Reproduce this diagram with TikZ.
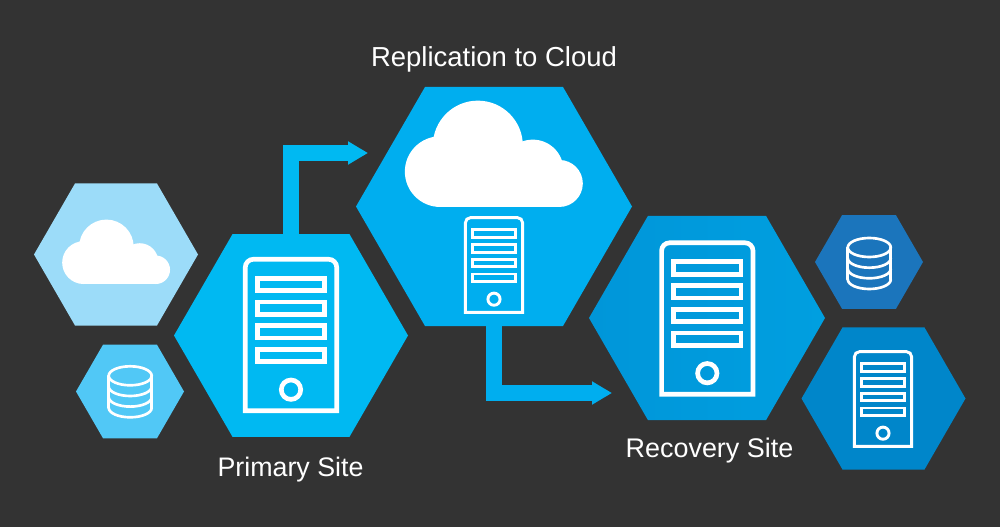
\documentclass[tikz,border=0pt]{standalone}
\usepackage{fontspec}
\setmainfont{Liberation Sans}
\usetikzlibrary{shapes.geometric,arrows.meta}
\definecolor{bgdark}{HTML}{333333}
\definecolor{primaryblue}{HTML}{00B9F2}
\definecolor{paleblue}{HTML}{9CDCF9}
\definecolor{skyblue}{HTML}{51C8F6}
\definecolor{cloudblue}{HTML}{00AEEF}
\definecolor{recleft}{HTML}{0096D9}
\definecolor{recright}{HTML}{009FE0}
\definecolor{dbblue}{HTML}{1B75BC}
\definecolor{srvblue}{HTML}{0086CA}
\tikzset{
hexa/.style={regular polygon,regular polygon sides=6,minimum size=#1*1.5pt,inner sep=0pt,outer sep=0pt},
flow/.style={line width=12pt,-{Triangle[length=15pt,width=16.5pt]}},
sitelabel/.style={text=white,font=\fontsize{#1}{24}\selectfont,inner sep=0pt,anchor=base}
}
\newcommand{\servericon}[3]{\begin{scope}[shift={(#1,#2)},scale=#3,draw=white,line width=#3*3.5pt]
\draw(-45.7,75.7)[rounded corners=#3*6pt]--(-45.7,-75.7)--(45.7,-75.7)[sharp corners]--(45.7,75.7)--cycle;
\foreach \k in {0,...,3}\draw(-33.7,{-56.7+23.7*\k})rectangle++(67.4,12.4);
\draw(0,54.7)circle[radius=9.7];
\end{scope}}
\newcommand{\dbicon}[3]{\begin{scope}[shift={(#1,#2)},scale=#3,draw=white,line width=#3*2pt,line cap=round]
\draw(0,-16)ellipse[x radius=21.5,y radius=9.5];
\draw(-21.5,-16)--(-21.5,16)(21.5,-16)--(21.5,16);
\foreach \k in {-5.3,5.3,16}\draw(-21.5,\k)arc[start angle=180,end angle=0,x radius=21.5,y radius=9.5];
\end{scope}}
\newcommand{\cloudicon}[3]{\begin{scope}[shift={(#1,#2)},scale=#3]
\fill[white](-161.5,53.5)circle[radius=106](-48.5,-24.5)circle[radius=135](116.5,49.5)circle[radius=92](196,89)circle[radius=70.5];
\fill[white](-161.5,60)rectangle(196,159.5);
\end{scope}}
\begin{document}
\begin{tikzpicture}[x=.75pt,y=-.75pt]
\fill[bgdark](0,0)rectangle(1000,527);
\coordinate(tipa)at(368,153);
\coordinate(tipb)at(612,393);
\node[hexa=117,fill=primaryblue](primaryhex)at(291,335.5){};
\node[hexa=138,fill=cloudblue](cloudhex)at(494,206.5){};
\draw[flow,primaryblue](primaryhex.north)|-(tipa);
\draw[flow,cloudblue](cloudhex.south)|-(tipb);
\node[hexa=82,fill=paleblue](palehex)at(116,254.5){};
\node[hexa=54,fill=skyblue](skyhex)at(130,391.5){};
\node[hexa=118,left color=recleft,right color=recright](rechex)at(707,318){};
\node[hexa=54,fill=dbblue](dbhex)at(869,262){};
\node[hexa=82,fill=srvblue](srvhex)at(883.5,398.5){};
\servericon{291}{335}{1}
\servericon{494}{265}{.625}
\servericon{707.3}{318.5}{1}
\servericon{883}{399}{.625}
\cloudicon{494}{153.8}{.3333}
\cloudicon{116.2}{251.8}{.202}
\dbicon{130.2}{391.8}{1}
\dbicon{869.3}{263.5}{1}
\node[sitelabel=20.6](replabel)at(494,66.5){Replication to Cloud};
\node[sitelabel=20.1](primlabel)at(290.5,476){Primary Site};
\node[sitelabel=20.2](reclabel)at(709.5,457.5){Recovery Site};
\end{tikzpicture}
\end{document}
